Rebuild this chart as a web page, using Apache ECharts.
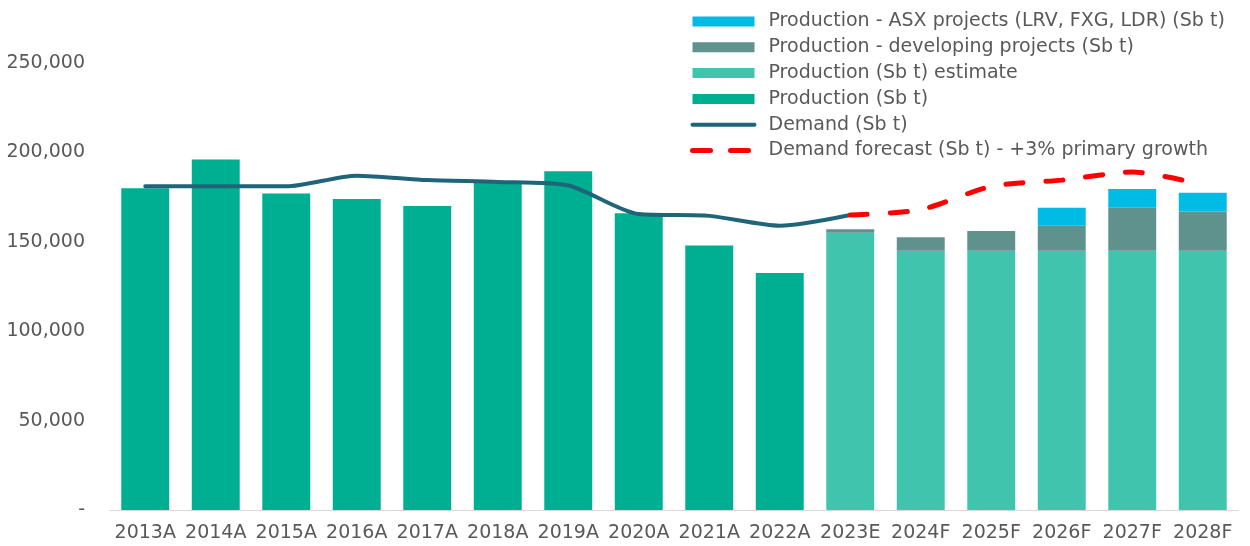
<!DOCTYPE html>
<html lang="en">
<head>
    <meta charset="UTF-8">
    <title>Antimony production and demand</title>
    <script src="https://cdn.jsdelivr.net/npm/echarts@6/dist/echarts.min.js"></script>
    <style>
        html, body { margin: 0; padding: 0; background: #fff; }
        #chart { width: 1250px; height: 546px; }
    </style>
</head>
<body>
<div id="chart"></div>
<script>
    // categories
    var years = ['2013A', '2014A', '2015A', '2016A', '2017A', '2018A', '2019A', '2020A',
        '2021A', '2022A', '2023E', '2024F', '2025F', '2026F', '2027F', '2028F'];

    // stacked bars (Sb t)
    var production = [180000, 196000, 177000, 174000, 170000, 183500, 189500, 166000,
        148000, 132500, null, null, null, null, null, null];
    var productionEstimate = [null, null, null, null, null, null, null, null,
        null, null, 155000, 145000, 145000, 145000, 145000, 145000];
    var developing = [null, null, null, null, null, null, null, null,
        null, null, 2000, 7500, 11000, 14000, 24000, 22000];
    var asxProjects = [null, null, null, null, null, null, null, null,
        null, null, null, null, null, 10000, 10500, 10500];

    // lines
    var demand = [181000, 181000, 181000, 187000, 184500, 183500, 181500, 165500,
        164500, 159000, 165000, null, null, null, null, null];
    var demandForecast = [null, null, null, null, null, null, null, null,
        null, null, 165000, 168000, 181000, 184500, 189000, 182000];

    var yTicks = [0, 50000, 100000, 150000, 200000, 250000];

    var names = {
        asx: 'Production - ASX projects (LRV, FXG, LDR) (Sb t)',
        dev: 'Production - developing projects (Sb t)',
        est: 'Production (Sb t) estimate',
        prod: 'Production (Sb t)',
        dem: 'Demand (Sb t)',
        fc: 'Demand forecast (Sb t) - +3% primary growth'
    };

    var txt = '#595959';
    var font = 'DejaVu Sans';
    var fs = 19;
    var noDot = {color: 'transparent', borderWidth: 0, opacity: 0};

    var chart = echarts.init(document.getElementById('chart'));

    var option = {
        backgroundColor: '#fff',
        animation: false,
        textStyle: {fontFamily: font},
        grid: {left: 110, right: 12, top: 63, bottom: 36},
        legend: {
            orient: 'vertical',
            left: 690,
            top: 12,
            padding: 0,
            itemWidth: 62,
            itemHeight: 10,
            itemGap: 6.8,
            textStyle: {color: txt, fontSize: fs, fontFamily: font, lineHeight: 19, padding: [0, 0, 0, 9]},
            data: [
                {name: names.asx, icon: 'rect'},
                {name: names.dev, icon: 'rect'},
                {name: names.est, icon: 'rect'},
                {name: names.prod, icon: 'rect'},
                {name: names.dem, lineStyle: {width: 4}, itemStyle: noDot},
                {name: names.fc, lineStyle: {width: 5, type: [18, 20], cap: 'round'}, itemStyle: noDot}
            ]
        },
        xAxis: {
            type: 'category',
            data: years,
            axisLine: {lineStyle: {color: '#D9D9D9', width: 1}},
            axisTick: {show: false},
            axisLabel: {color: txt, fontSize: fs, fontFamily: font, margin: 14, interval: 0}
        },
        yAxis: {
            type: 'value',
            min: yTicks[0],
            max: yTicks[yTicks.length - 1],
            interval: yTicks[1] - yTicks[0],
            splitLine: {show: false},
            axisLine: {show: false},
            axisTick: {show: false},
            axisLabel: {
                color: txt, fontSize: fs, fontFamily: font, margin: 25,
                formatter: function (v) {
                    return v === 0 ? '-' : v.toLocaleString('en-US');
                }
            }
        },
        series: [
            {
                name: names.prod, type: 'bar', stack: 'p', data: production,
                barCategoryGap: '32%', itemStyle: {color: '#00AE91'}
            },
            {
                name: names.est, type: 'bar', stack: 'p', data: productionEstimate,
                itemStyle: {color: '#40C4AE'}
            },
            {
                name: names.dev, type: 'bar', stack: 'p', data: developing,
                itemStyle: {color: '#5F918D'}
            },
            {
                name: names.asx, type: 'bar', stack: 'p', data: asxProjects,
                itemStyle: {color: '#00BBE3'}
            },
            {
                name: names.dem, type: 'line', data: demand, symbol: 'none', smooth: 0.25,
                lineStyle: {color: '#1F6478', width: 4, cap: 'round'},
                itemStyle: {color: '#1F6478'}
            },
            {
                name: names.fc, type: 'line', data: demandForecast, symbol: 'none', smooth: 0.25,
                lineStyle: {color: '#FF0000', width: 5, type: [17, 23], cap: 'round'},
                itemStyle: {color: '#FF0000'}
            }
        ]
    };

    chart.setOption(option);
</script>
</body>
</html>
